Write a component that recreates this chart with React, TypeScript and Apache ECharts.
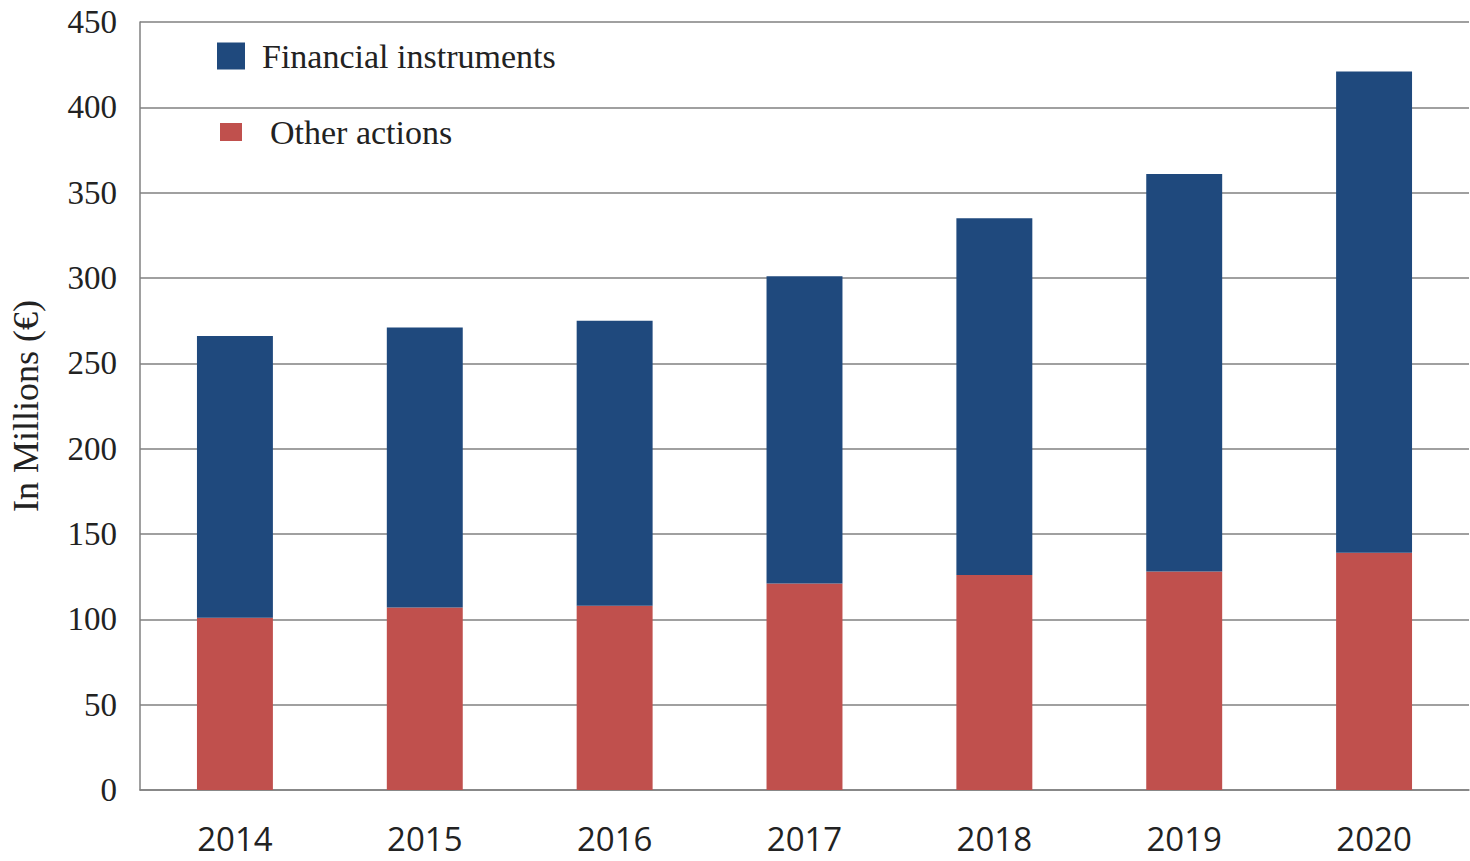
import React, { useEffect, useRef } from "react";
import * as echarts from "echarts";

const categories = ["2014", "2015", "2016", "2017", "2018", "2019", "2020"];
const otherActions = [101, 107, 108, 121, 126, 128, 139];
const financialInstruments = [165, 164, 167, 180, 209, 233, 282];

const BLUE = "#1f497d";
const RED = "#c0504d";
const SERIF = "'Liberation Serif', 'Times New Roman', serif";
const SANS = "'Open Sans', 'Noto Sans', sans-serif";

export default function App() {
  const ref = useRef<HTMLDivElement>(null);
  useEffect(() => {
    if (!ref.current) return;
    const chart = echarts.init(ref.current, undefined, { renderer: "svg" });
    chart.setOption({
      animation: false,
      backgroundColor: "#ffffff",
      grid: { left: 140, right: 1, top: 22, bottom: 71, containLabel: false },
      legend: [
        {
          data: ["Financial instruments"],
          left: 212,
          top: 34,
          orient: "vertical",
          icon: "rect",
          itemWidth: 28,
          itemHeight: 27,
          itemGap: 0,
          textStyle: { fontFamily: SERIF, fontSize: 34, color: "#222", padding: [0, 0, 0, 12] },
        },
        {
          data: ["Other actions"],
          left: 215,
          top: 110,
          orient: "vertical",
          icon: "rect",
          itemWidth: 22,
          itemHeight: 18,
          itemGap: 0,
          textStyle: { fontFamily: SERIF, fontSize: 34, color: "#222", padding: [0, 0, 0, 23] },
        },
      ],
      xAxis: {
        type: "category",
        data: categories,
        axisTick: { show: false },
        axisLine: { lineStyle: { color: "#808080", width: 1.5 } },
        axisLabel: { fontFamily: SANS, fontSize: 33, color: "#222", margin: 32 },
      },
      yAxis: {
        type: "value",
        min: 0,
        max: 450,
        interval: 50,
        name: "In Millions (€)",
        nameLocation: "middle",
        nameGap: 96,
        nameRotate: 90,
        nameTextStyle: { fontFamily: SERIF, fontSize: 36, color: "#222" },
        axisLine: { show: true, lineStyle: { color: "#808080", width: 1.5 } },
        axisTick: { show: false },
        splitLine: { lineStyle: { color: "#808080", width: 1.5 } },
        axisLabel: { fontFamily: SERIF, fontSize: 33, color: "#222", margin: 23 },
      },
      series: [
        {
          name: "Other actions",
          type: "bar",
          stack: "total",
          barWidth: "40%",
          itemStyle: { color: RED },
          data: otherActions,
        },
        {
          name: "Financial instruments",
          type: "bar",
          stack: "total",
          barWidth: "40%",
          itemStyle: { color: BLUE },
          data: financialInstruments,
        },
      ],
    });
    return () => chart.dispose();
  }, []);
  return (
    <div
      ref={ref}
      style={{ position: "fixed", left: 0, top: 0, width: 1470, height: 861, background: "#fff" }}
    />
  );
}
